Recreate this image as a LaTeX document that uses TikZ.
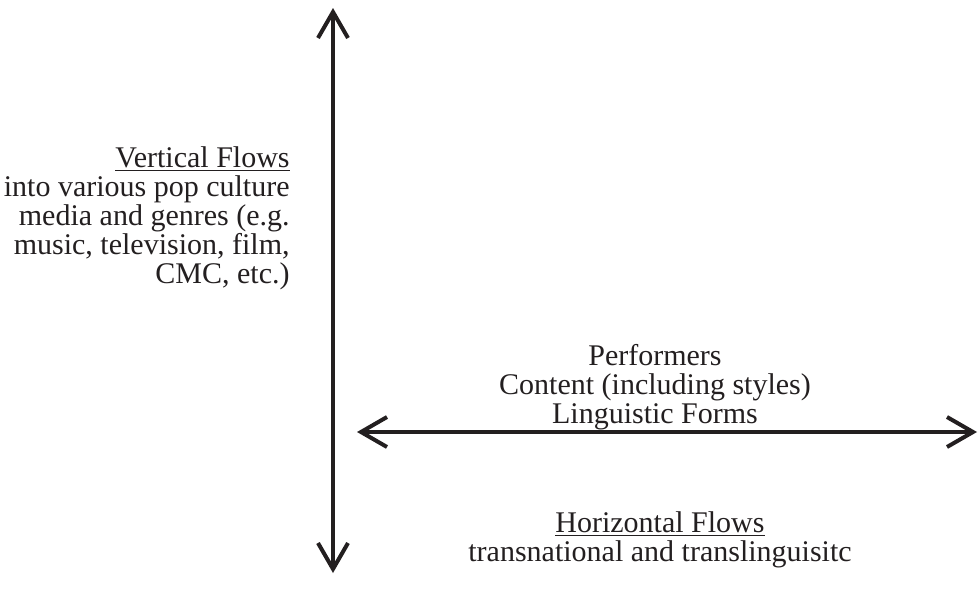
\documentclass[tikz,border=0pt]{standalone}
\usepackage{fontspec}
\setmainfont{Liberation Serif}
\usepackage{tikz}
\usetikzlibrary{arrows.meta}
\definecolor{inkblack}{RGB}{35, 31, 32}

\begin{document}
\begin{tikzpicture}[x=0.5pt, y=-0.5pt,
    flow/.style={draw=inkblack, line width=2pt, {Straight Barb[length=13pt, width=15pt, line width=2pt]}-{Straight Barb[length=13pt, width=15pt, line width=2pt]}},
    label/.style={inner sep=0pt, text=inkblack, font=\fontsize{15}{14.5}\selectfont}]
            % Frame to ensure alignment:
            \useasboundingbox                                                 (  0,   0) rectangle (979, 600);
            % Axes
            \coordinate (vtop)   at (333,   8);
            \coordinate (vbot)   at (333, 573);
            \coordinate (hleft)  at (357, 432);
            \coordinate (hright) at (977, 432);
            \draw[flow] (vtop)  -- (vbot);
            \draw[flow] (hleft) -- (hright);
            % Vertical Flows (base = last line)
            \node[label, anchor=base east, align=right] (vflows) at (290, 283)
                 {\underline{Vertical Flows}\\ into various pop culture\\ media and genres (e.g.\\ music, television, film,\\ CMC, etc.)};
            % What flows
            \node[label, anchor=base, align=center] (content) at (655, 423)
                 {Performers\\ Content (including styles)\\ Linguistic Forms};
            % Horizontal Flows
            \node[label, anchor=base, align=center] (hflows) at (660, 561)
                 {\underline{Horizontal Flows}\\ transnational and translinguisitc};
        \end{tikzpicture}
\end{document}
